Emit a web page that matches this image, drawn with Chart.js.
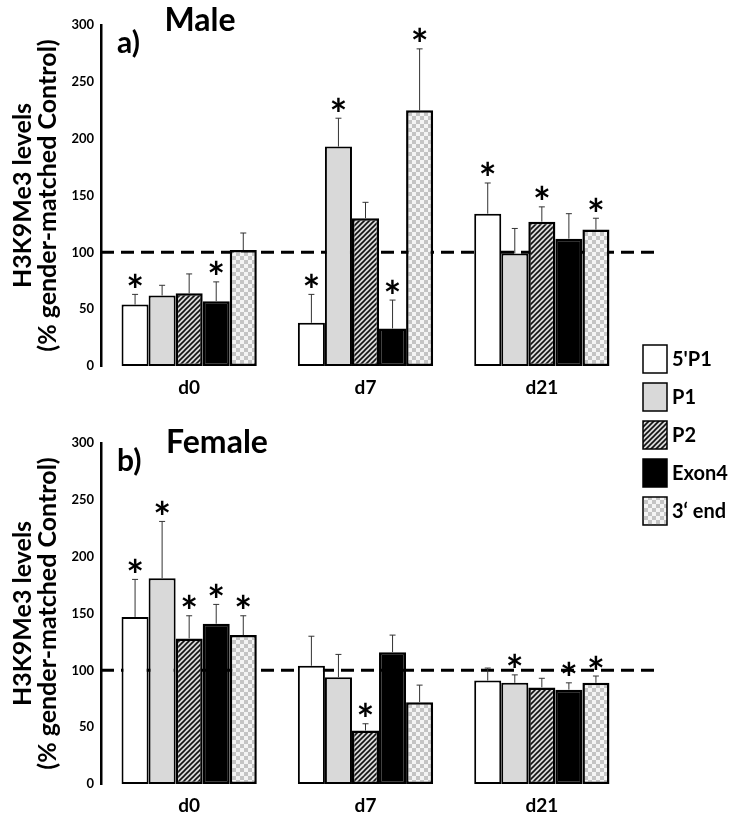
<!DOCTYPE html>
<html>
<head>
<meta charset="utf-8">
<script src="https://cdn.jsdelivr.net/npm/chart.js@4.4.1/dist/chart.umd.min.js"></script>
<style>
  body { margin: 0; background: #fff; }
  #wrap { position: relative; width: 732px; height: 817px; }
  canvas { position: absolute; left: 0; top: 0; }
</style>
</head>
<body>
<div id="wrap">
  <canvas id="male" width="732" height="817"></canvas>
  <canvas id="female" width="732" height="817"></canvas>
</div>
<script>
// categories, series and ticks
const days = ['d0', 'd7', 'd21'];
const regions = ["5'P1", 'P1', 'P2', 'Exon4', '3\u2018 end'];
const yTicks = [0, 50, 100, 150, 200, 250, 300];
const controlLevel = 100;
const yTitle = ['H3K9Me3 levels', '(% gender-matched Control)'];

// Male: one row per region, values for d0, d7, d21
const maleMeans = [
  [54, 38, 134],
  [62, 193, 99],
  [64, 130, 127],
  [57, 33, 112],
  [102, 225, 120]
];
const maleErrors = [
  [9, 25, 27],
  [9, 25, 22],
  [17, 14, 13],
  [17, 25, 22],
  [15, 54, 10]
];
const maleStars = [
  [1, 1, 1],
  [0, 1, 0],
  [0, 0, 1],
  [1, 1, 0],
  [0, 1, 1]
];

// Female
const femaleMeans = [
  [147, 104, 91],
  [181, 94, 89],
  [128, 47, 85],
  [141, 116, 83],
  [131, 72, 89]
];
const femaleErrors = [
  [33, 26, 11],
  [50, 20, 7],
  [20, 6, 8],
  [17, 15, 6],
  [17, 15, 6]
];
const femaleStars = [
  [1, 0, 0],
  [1, 0, 1],
  [1, 1, 0],
  [1, 0, 1],
  [1, 0, 1]
];

// fill patterns
function hatchPattern() {
  const c = document.createElement('canvas');
  c.width = 5; c.height = 5;
  const g = c.getContext('2d');
  g.fillStyle = '#d8d8d8';
  g.fillRect(0, 0, 5, 5);
  g.strokeStyle = '#111';
  g.lineWidth = 1.6;
  g.beginPath();
  g.moveTo(-1, 1); g.lineTo(1, -1);
  g.moveTo(-1, 6); g.lineTo(6, -1);
  g.moveTo(4, 6); g.lineTo(6, 4);
  g.stroke();
  return g.createPattern(c, 'repeat');
}
function checkerPattern() {
  const c = document.createElement('canvas');
  c.width = 8; c.height = 8;
  const g = c.getContext('2d');
  g.fillStyle = '#f4f4f4';
  g.fillRect(0, 0, 8, 8);
  g.fillStyle = '#c4c4c4';
  g.fillRect(0, 0, 4, 4);
  g.fillRect(4, 4, 4, 4);
  return g.createPattern(c, 'repeat');
}

const fills = ['#ffffff', '#d9d9d9', hatchPattern(), '#000000', checkerPattern()];
const borderWidths = [2, 2, 2.5, 2.5, 2.5];

const font = 'Lato, "Open Sans", sans-serif';

// dashed control line, behind the bars
const controlLine = {
  id: 'controlLine',
  beforeDatasetsDraw(chart) {
    const { ctx, chartArea, scales } = chart;
    const y = scales.y.getPixelForValue(controlLevel);
    ctx.save();
    ctx.strokeStyle = '#000';
    ctx.lineWidth = 3;
    ctx.setLineDash([13, 7]);
    ctx.beginPath();
    ctx.moveTo(chartArea.left, y);
    ctx.lineTo(chartArea.right + 24, y);
    ctx.stroke();
    ctx.restore();
  }
};

// upper error bars and significance stars
const errorBars = {
  id: 'errorBars',
  afterDatasetsDraw(chart) {
    const { ctx, scales } = chart;
    ctx.save();
    chart.data.datasets.forEach((ds, i) => {
      const meta = chart.getDatasetMeta(i);
      meta.data.forEach((bar, j) => {
        const top = scales.y.getPixelForValue(ds.data[j] + ds.errors[j]);
        ctx.strokeStyle = '#333';
        ctx.lineWidth = 1;
        ctx.beginPath();
        ctx.moveTo(bar.x, bar.y);
        ctx.lineTo(bar.x, top);
        ctx.moveTo(bar.x - 3, top);
        ctx.lineTo(bar.x + 3, top);
        ctx.stroke();
        if (ds.stars[j]) {
          ctx.fillStyle = '#000';
          ctx.font = 'bold 42px ' + font;
          ctx.textAlign = 'center';
          ctx.textBaseline = 'alphabetic';
          const m = ctx.measureText('*');
          const cy = top - 14;
          ctx.fillText('*', bar.x, cy + (m.actualBoundingBoxAscent - m.actualBoundingBoxDescent) / 2);
        }
      });
    });
    ctx.restore();
  }
};

// panel title and letter
const panelTitle = {
  id: 'panelTitle',
  afterDraw(chart, args, opts) {
    const { ctx, chartArea } = chart;
    ctx.save();
    ctx.fillStyle = '#000';
    ctx.textBaseline = 'alphabetic';
    ctx.textAlign = 'center';
    ctx.font = 'bold 32px ' + font;
    ctx.fillText(opts.text, chartArea.left + opts.dx, chartArea.top + opts.dy);
    ctx.textAlign = 'left';
    ctx.font = 'bold 30px ' + font;
    ctx.fillText(opts.letter, chartArea.left + 16, chartArea.top + opts.dy + opts.letterDy);
    ctx.restore();
  }
};

// legend boxes between the two panels
const sideLegend = {
  id: 'sideLegend',
  afterDraw(chart, args, opts) {
    if (!opts.show) return;
    const { ctx, chartArea } = chart;
    const x0 = chartArea.right + 13;
    const y0 = chartArea.bottom - 21;
    ctx.save();
    chart.data.datasets.forEach((ds, i) => {
      const y = y0 + i * 38;
      ctx.fillStyle = ds.backgroundColor;
      ctx.fillRect(x0, y, 24, 28);
      ctx.strokeStyle = '#000';
      ctx.lineWidth = 1.5;
      ctx.strokeRect(x0, y, 24, 28);
      ctx.fillStyle = '#000';
      ctx.font = 'bold 20px ' + font;
      ctx.textAlign = 'left';
      ctx.textBaseline = 'middle';
      ctx.fillText(ds.label, x0 + 29, y + 15);
    });
    ctx.restore();
  }
};

function makeChart(id, means, errors, stars, layout, title) {
  const datasets = regions.map((r, i) => ({
    label: r,
    data: means[i],
    errors: errors[i],
    stars: stars[i],
    backgroundColor: fills[i],
    borderColor: '#000',
    borderWidth: borderWidths[i],
    borderSkipped: false,
    categoryPercentage: 0.767,
    barPercentage: 1.0
  }));

  return new Chart(document.getElementById(id), {
    type: 'bar',
    data: { labels: days, datasets: datasets },
    plugins: [controlLine, errorBars, panelTitle, sideLegend],
    options: {
      responsive: false,
      animation: false,
      events: [],
      layout: { padding: { left: 0, right: 102, top: layout.top, bottom: layout.bottom } },
      plugins: {
        legend: { display: false },
        tooltip: { enabled: false },
        panelTitle: title,
        sideLegend: { show: layout.legend }
      },
      scales: {
        x: {
          grid: { display: false, drawTicks: false },
          border: { display: false },
          ticks: { color: '#000', font: { family: font, weight: 'bold', size: 19 }, padding: 10 },
          afterFit: (s) => { s.height = layout.xHeight; }
        },
        y: {
          min: 0,
          max: 300,
          afterBuildTicks: (s) => { s.ticks = yTicks.map(v => ({ value: v })); },
          grid: { display: false, drawTicks: false },
          border: { display: true, color: '#000', width: 2.5 },
          ticks: { color: '#000', font: { family: font, weight: 'bold', size: 13 }, padding: 7 },
          title: {
            display: true,
            text: yTitle,
            color: '#000',
            font: { family: font, weight: 'bold', size: 25, lineHeight: 1.0 },
            padding: { top: 10, bottom: 0 }
          },
          afterFit: (s) => { s.width = 101; }
        }
      }
    }
  });
}

makeChart('male', maleMeans, maleErrors, maleStars,
  { top: 25, bottom: 417, xHeight: 34, legend: true },
  { text: 'Male', letter: 'a)', dx: 99, dy: 6, letterDy: 22 });

makeChart('female', femaleMeans, femaleErrors, femaleStars,
  { top: 443, bottom: 0, xHeight: 33, legend: false },
  { text: 'Female', letter: 'b)', dx: 116, dy: 10, letterDy: 18 });
</script>
</body>
</html>
